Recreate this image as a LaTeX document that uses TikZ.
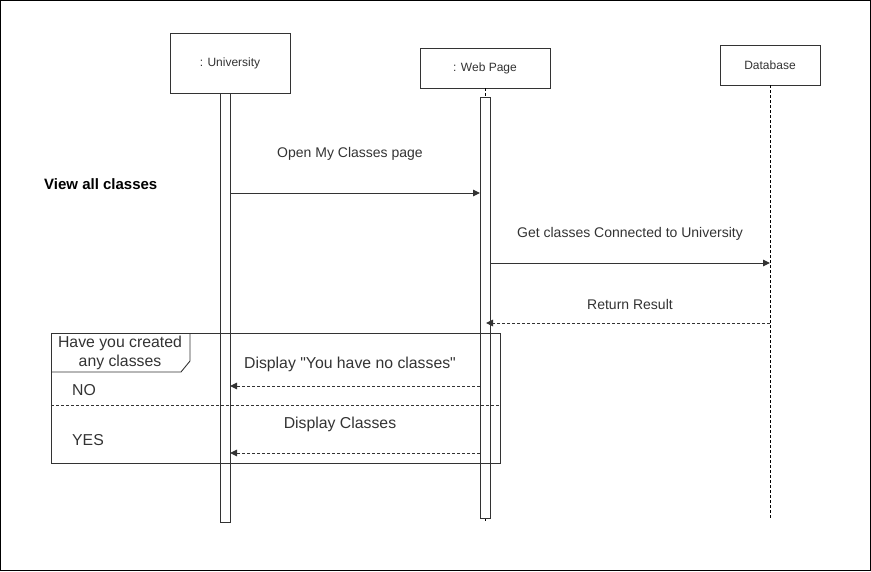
\documentclass[tikz,border=0pt]{standalone}
\usepackage{fontspec}
\setmainfont{Liberation Sans}
\newfontfamily\nomapfont{Liberation Sans}
\usetikzlibrary{arrows.meta}
\definecolor{ln}{HTML}{333333}
\begin{document}
\begin{tikzpicture}[x=1pt,y=-1pt,
  obj/.style={draw=ln,line width=0.9pt,fill=white,minimum width=#1,minimum height=40pt,inner sep=0pt,font=\fontsize{12}{14}\selectfont,text=ln},
  bar/.style={draw=ln,line width=0.9pt,fill=white},
  lifel/.style={draw=black,line width=0.7pt,dash pattern=on 3pt off 2pt},
  msg/.style={draw=ln,line width=1pt,-{Triangle[length=7pt,width=6.5pt]}},
  ret/.style={msg,dash pattern=on 3pt off 2pt},
  mlab/.style={font=\fontsize{14}{16}\selectfont,text=ln,inner sep=0pt},
  alab/.style={font=\nomapfont\fontsize{15.8}{19.5}\selectfont,text=ln,inner sep=0pt}]
\useasboundingbox (0,0) rectangle (871,571);
\draw[black,line width=0.8pt] (0.5,0.5) rectangle (870.5,570.5);

% objects
\node[obj=120pt,minimum height=60pt] (uni) at (230,63) {: University};
\node[obj=130pt] (web) at (485,68) {: Web Page};
\node[obj=100pt] (db) at (770,65) {Database};

% lifelines
\coordinate (webtop) at (485,97);
\coordinate (webend) at (485,522);
\coordinate (dbend) at (770,520);
\draw[lifel] (web.south) -- (webtop);
\draw[lifel] (485,518) -- (webend);
\draw[lifel] (db.south) -- (dbend);

% activation bars
\draw[bar] (220,93) rectangle (230,522);
\draw[bar] (480,97) rectangle (490,518);

\node[font=\bfseries\fontsize{15}{17}\selectfont,anchor=west,inner sep=0pt] (view) at (44,184) {View all classes};

% messages
\coordinate (u1) at (230,193); \coordinate (w1) at (480,193);
\draw[msg] (u1) -- (w1);
\node[mlab] (l1) at (350,154) {Open My Classes page};

\coordinate (w2) at (490,263); \coordinate (d2) at (770,263);
\draw[msg] (w2) -- (d2);
\node[mlab] (l2) at (630,234) {Get classes Connected to University};

\coordinate (d3) at (770,323); \coordinate (w3) at (486,323);
\draw[ret] (d3) -- (w3);
\node[mlab] (l3) at (630,304) {Return Result};

% alt frame
\draw[ln,line width=0.9pt] (51,333) rectangle (500,463);
\draw[ln,line width=0.9pt] (51,372) -- (181,372) -- (190,361) -- (190,333);
\node[alab,align=center] (altl) at (120,353) {Have you created\\any classes};
\draw[ln,line width=0.8pt,dash pattern=on 3pt off 2pt] (51,405) -- (500,405);
\node[alab,anchor=west] (no) at (72,390) {NO};
\node[alab,anchor=west] (yes) at (72,440) {YES};

\coordinate (w4) at (480,386); \coordinate (u4) at (230,386);
\draw[ret] (w4) -- (u4);
\node[alab] (l4) at (350,364) {Display "You have no classes"};

\coordinate (w5) at (480,453); \coordinate (u5) at (230,453);
\draw[ret] (w5) -- (u5);
\node[alab] (l5) at (340,424) {Display Classes};
\end{tikzpicture}
\end{document}
